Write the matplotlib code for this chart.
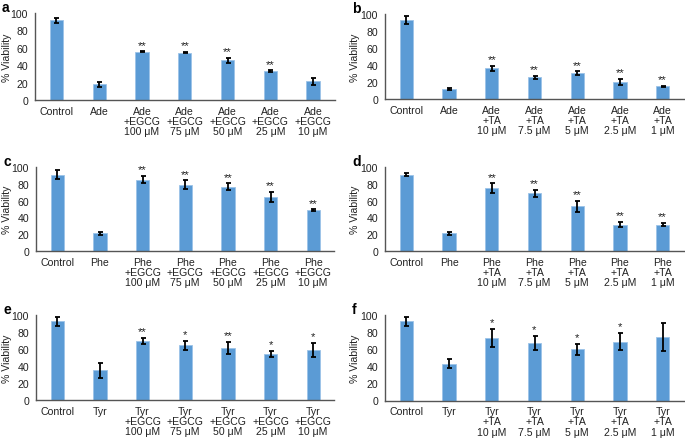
import matplotlib
matplotlib.use("Agg")
import matplotlib.pyplot as plt

plt.rcParams['font.family'] = ['Liberation Sans', 'DejaVu Sans']

# ---- data ----
labels_a = ["Control", "Ade", "Ade\n+EGCG\n100 μM", "Ade\n+EGCG\n75 μM", "Ade\n+EGCG\n50 μM", "Ade\n+EGCG\n25 μM", "Ade\n+EGCG\n10 μM"]
values_a = [91.5, 18.0, 55.3, 54.5, 45.5, 33.0, 21.5]
errors_a = [3.3, 2.5, 0.6, 0.6, 3.2, 1.0, 4.0]
stars_a = ["", "", "**", "**", "**", "**", ""]

labels_b = ["Control", "Ade", "Ade\n+TA\n10 μM", "Ade\n+TA\n7.5 μM", "Ade\n+TA\n5 μM", "Ade\n+TA\n2.5 μM", "Ade\n+TA\n1 μM"]
values_b = [92.5, 12.0, 36.0, 25.5, 30.5, 19.8, 14.7]
errors_b = [4.5, 1.0, 2.8, 1.8, 1.8, 3.8, 1.0]
stars_b = ["", "", "**", "**", "**", "**", "**"]

labels_c = ["Control", "Phe", "Phe\n+EGCG\n100 μM", "Phe\n+EGCG\n75 μM", "Phe\n+EGCG\n50 μM", "Phe\n+EGCG\n25 μM", "Phe\n+EGCG\n10 μM"]
values_c = [91.0, 21.0, 85.0, 79.0, 76.5, 64.0, 48.5]
errors_c = [5.8, 1.5, 4.4, 5.0, 4.0, 6.0, 1.0]
stars_c = ["", "", "**", "**", "**", "**", "**"]

labels_d = ["Control", "Phe", "Phe\n+TA\n10 μM", "Phe\n+TA\n7.5 μM", "Phe\n+TA\n5 μM", "Phe\n+TA\n2.5 μM", "Phe\n+TA\n1 μM"]
values_d = [91.0, 21.0, 75.0, 68.5, 53.0, 31.5, 31.5]
errors_d = [2.0, 1.8, 5.4, 4.0, 6.3, 3.2, 1.8]
stars_d = ["", "", "**", "**", "**", "**", "**"]

labels_e = ["Control", "Tyr", "Tyr\n+EGCG\n100 μM", "Tyr\n+EGCG\n75 μM", "Tyr\n+EGCG\n50 μM", "Tyr\n+EGCG\n25 μM", "Tyr\n+EGCG\n10 μM"]
values_e = [92.5, 35.0, 69.0, 64.5, 61.0, 54.5, 59.0]
errors_e = [5.5, 9.0, 3.7, 5.5, 7.0, 3.5, 8.3]
stars_e = ["", "", "**", "*", "**", "*", "*"]

labels_f = ["Control", "Tyr", "Tyr\n+TA\n10 μM", "Tyr\n+TA\n7.5 μM", "Tyr\n+TA\n5 μM", "Tyr\n+TA\n2.5 μM", "Tyr\n+TA\n1 μM"]
values_f = [92.5, 43.0, 73.0, 67.5, 60.0, 69.0, 74.0]
errors_f = [5.0, 5.0, 10.8, 8.0, 6.4, 9.7, 16.6]
stars_f = ["", "", "*", "*", "*", "*", ""]

panels = [
    ("a", labels_a, values_a, errors_a, stars_a, (35, 334.5, 14, 101), 12.5),
    ("b", labels_b, values_b, errors_b, stars_b, (385, 684, 14.7, 100), 360),
    ("c", labels_c, values_c, errors_c, stars_c, (36, 334.5, 168, 252), 12.5),
    ("d", labels_d, values_d, errors_d, stars_d, (385, 684, 168, 252), 360),
    ("e", labels_e, values_e, errors_e, stars_e, (36, 334.5, 316, 401), 12.5),
    ("f", labels_f, values_f, errors_f, stars_f, (385, 684, 316, 401.5), 360),
]

W, H = 685, 439
fig = plt.figure(figsize=(W / 100, H / 100), dpi=100)

FS = 7.6
bar_color = "#5b9bd5"
for letter, labels, vals, errs, stars, (l, r, t, b), ylx in panels:
    ax = fig.add_axes([l / W, 1 - b / H, (r - l) / W, (b - t) / H])
    x = list(range(len(vals)))
    ax.bar(x, vals, width=0.31, color=bar_color, edgecolor="#9cc3e8", linewidth=0.6, zorder=2)
    ax.errorbar(x, vals, yerr=errs, fmt="none", ecolor="black", elinewidth=1.3, capsize=1.8, capthick=1.3, zorder=3)
    for xi, v, e, s in zip(x, vals, errs, stars):
        if s:
            ax.text(xi, v + e + 2.0, s, ha="center", va="bottom", fontsize=8.2, color="#222222")
    ax.set_xlim(-0.5, len(vals) - 0.5)
    ax.set_ylim(0, 100)
    ax.set_yticks([0, 20, 40, 60, 80, 100])
    ax.set_xticks(x)
    ax.set_xticklabels(labels, fontsize=FS, linespacing=1.03, color="#222222")
    ax.tick_params(axis="y", length=0, labelsize=FS, pad=5, labelcolor="#222222")
    ax.tick_params(axis="x", length=0, pad=4)
    for sp in ["top", "right"]:
        ax.spines[sp].set_visible(False)
    for sp in ["left", "bottom"]:
        ax.spines[sp].set_color("#555555")
        ax.spines[sp].set_linewidth(1.0)
    ax.set_ylabel("% Viability", fontsize=FS, color="#222222")
    ax.yaxis.set_label_coords((ylx - l) / (r - l), 0.5)
    fig.text((l - 33) / W, 1 - (t - 6) / H, letter, fontsize=10, fontweight="bold", ha="left", va="center")

fig.savefig("out.png", dpi=100)
